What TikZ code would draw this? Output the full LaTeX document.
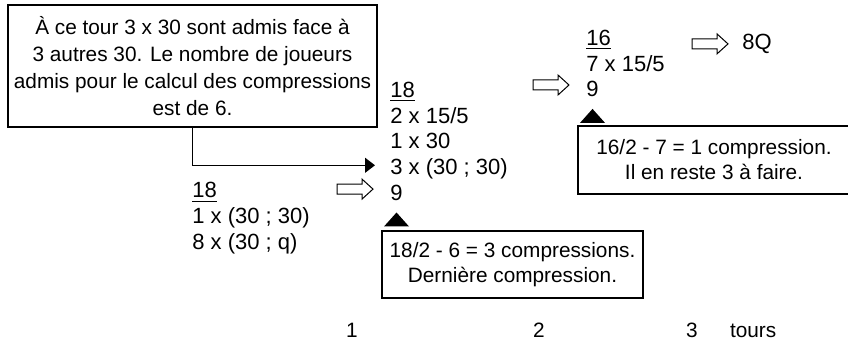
\documentclass[tikz,border=0pt]{standalone}
\usepackage{fontspec}
\setmainfont{Liberation Sans}
\usetikzlibrary{arrows.meta,positioning}
\tikzset{
  every node/.style={font=\fontsize{10.4pt}{12.5pt}\selectfont},
  box/.style={draw, line width=0.6pt, align=center, inner sep=0pt},
  row/.style={inner sep=0pt, text height=9pt, text depth=3.5pt, anchor=north west,
              font=\fontsize{11pt}{12.5pt}\selectfont},
  link/.style={-{Triangle[length=5pt,width=7.5pt]}, line width=0.6pt},
  pics/hollowarr/.style={code={
    \draw[line width=0.5pt] (0,-2.5pt) -- (12.5pt,-2.5pt) -- (12.5pt,-5pt) -- (18pt,0)
      -- (12.5pt,5pt) -- (12.5pt,2.5pt) -- (0,2.5pt) -- cycle;}},
  pics/marker/.style={code={
    \fill (0,0) -- (-6.25pt,-7pt) -- (6.25pt,-7pt) -- cycle;}},
}
\begin{document}
\begin{tikzpicture}[x=0.5pt,y=-0.5pt]
  \useasboundingbox (0,0) rectangle (848,342);
  \node[box, minimum width=184.5pt, minimum height=61pt,
        font=\fontsize{10.4pt}{13.5pt}\selectfont] (note) at (192.5,66)
    {À ce tour 3 x 30 sont admis face à\\3 autres 30. Le nombre de joueurs\\admis pour le calcul des compressions\\est de 6.};
  % tour 1
  \node[row] (c1a) at (192,179.5) {\underline{18}};
  \node[row] (c1b) at (c1a.south west) {1 x (30 ; 30)};
  \node[row] (c1c) at (c1b.south west) {8 x (30 ; q)};
  % tour 2
  \node[row] (c2a) at (390,79) {\underline{18}};
  \node[row] (c2b) at (c2a.south west) {2 x 15/5};
  \node[row] (c2c) at (c2b.south west) {1 x 30};
  \node[row] (c2d) at (c2c.south west) {3 x (30 ; 30)};
  \node[row] (c2e) at (c2d.south west) {9};
  % tour 3
  \node[row] (c3a) at (586,27) {\underline{16}};
  \node[row] (c3b) at (c3a.south west) {7 x 15/5};
  \node[row] (c3c) at (c3b.south west) {9};
  \node[row] (res) at (742,31) {8Q};
  \draw[link] (note.south) |- ([xshift=-7.5pt,yshift=2pt]c2d.west);
  \pic at ([xshift=-26.5pt,yshift=3pt]c2e.west) {hollowarr};
  \pic at ([xshift=-26.5pt,yshift=3.25pt]c3c.west) {hollowarr};
  \pic at ([xshift=-25pt]res.west) {hollowarr};
  \pic at ([yshift=-2.25pt]c2e.south) {marker};
  \pic at ([yshift=-2.25pt]c3c.south) {marker};
  \node[box, minimum width=130.5pt, minimum height=33.5pt] (compB) at (512.5,264.5)
    {18/2 - 6 = 3 compressions.\\Dernière compression.};
  \node[box, minimum width=136pt, minimum height=34pt] (compC) at (714,160)
    {16/2 - 7 = 1 compression.\\Il en reste 3 à faire.};
  \node[anchor=base] (t1) at (352,337.5) {1};
  \node[anchor=base] (t2) at (539,337.5) {2};
  \node[anchor=base] (t3) at (692,337.5) {3};
  \node[anchor=base west] (tours) at (723,337.5) {tours};
\end{tikzpicture}
\end{document}
